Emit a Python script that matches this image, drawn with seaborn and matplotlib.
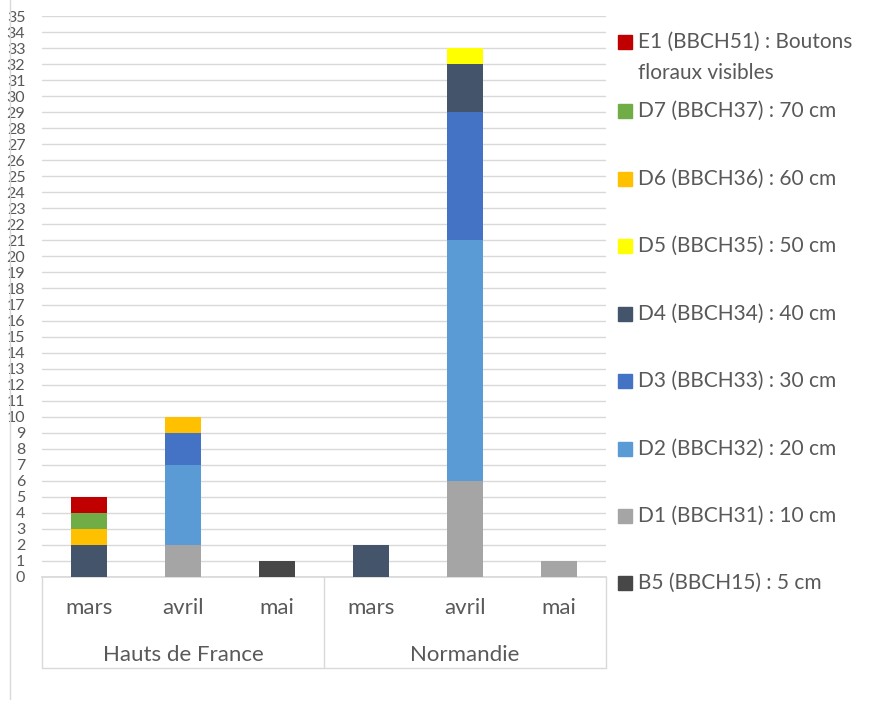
import pandas as pd
import matplotlib.pyplot as plt
import seaborn as sns
from matplotlib.lines import Line2D
from matplotlib.patches import Rectangle

# Données
regions = ['Hauts de France', 'Normandie']
mois = ['mars', 'avril', 'mai']
stades = ['B5 (BBCH15) : 5 cm', 'D1 (BBCH31) : 10 cm', 'D2 (BBCH32) : 20 cm',
          'D3 (BBCH33) : 30 cm', 'D4 (BBCH34) : 40 cm', 'D5 (BBCH35) : 50 cm',
          'D6 (BBCH36) : 60 cm', 'D7 (BBCH37) : 70 cm',
          'E1 (BBCH51) : Boutons\nfloraux visibles']
couleurs = ['#474747', '#A5A5A5', '#5B9BD5', '#4472C4', '#44546A',
            '#FFFF00', '#FFC000', '#70AD47', '#C00000']

# effectifs par stade, dans l'ordre HdF mars/avril/mai puis Normandie mars/avril/mai
b5 = [0, 0, 1, 0, 0, 0]
d1 = [0, 2, 0, 0, 6, 1]
d2 = [0, 5, 0, 0, 15, 0]
d3 = [0, 2, 0, 0, 8, 0]
d4 = [2, 0, 0, 2, 3, 0]
d5 = [0, 0, 0, 0, 1, 0]
d6 = [1, 1, 0, 0, 0, 0]
d7 = [1, 0, 0, 0, 0, 0]
e1 = [1, 0, 0, 0, 0, 0]
valeurs = [b5, d1, d2, d3, d4, d5, d6, d7, e1]

cles = [f'{r}|{m}' for r in regions for m in mois]
df = pd.DataFrame({s: v for s, v in zip(stades, valeurs)})
cumul = df[stades].cumsum(axis=1)
cumul['cle'] = cles

gris = '#595959'
sns.set_theme(style='white')
plt.rcParams['font.family'] = ['Lato', 'DejaVu Sans']

fig = plt.figure(figsize=(8.94, 7.06), dpi=100)
ax = fig.add_axes([42 / 894, 1 - 577 / 706, (606 - 42) / 894, (577 - 16) / 706])

# empilement : on trace les cumuls du haut vers le bas
for s, c in zip(reversed(stades), reversed(couleurs)):
    sns.barplot(data=cumul, x='cle', y=s, order=cles, color=c, saturation=1,
                width=0.39, linewidth=0, ax=ax, zorder=3)

ax.set_ylim(0, 35)
ax.set_xlim(-0.5, 5.5)
ax.set_yticks(range(0, 36))
ax.tick_params(axis='y', labelsize=11.5, labelcolor=gris, length=0, pad=12)
ax.yaxis.grid(True, color='#D9D9D9', linewidth=1, zorder=0)
ax.set_axisbelow(True)
ax.set_xlabel('')
ax.set_ylabel('')
ax.set_xticks(range(6))
ax.set_xticklabels(mois * 2, fontsize=16, color=gris)
ax.tick_params(axis='x', length=0, pad=15)
for sp in ['top', 'right', 'left']:
    ax.spines[sp].set_visible(False)
ax.spines['bottom'].set_color('#D9D9D9')

# niveau régions de l'axe des catégories
trans = ax.get_xaxis_transform()
for i, r in enumerate(regions):
    ax.text(i * 3 + 1, -78 / 561, r, transform=trans, ha='center', va='center',
            fontsize=16, color=gris)
for xv in [-0.5, 2.5, 5.5]:
    ax.add_line(Line2D([xv, xv], [0, -91 / 561], transform=trans, color='#D9D9D9',
                       lw=1, clip_on=False))
ax.add_line(Line2D([-0.5, 5.5], [-91 / 561, -91 / 561], transform=trans,
                   color='#D9D9D9', lw=1, clip_on=False))

# bord gauche du cadre
fig.add_artist(Line2D([10 / 894, 10 / 894], [0.01, 1], color='#D9D9D9', lw=1))

# légende
pos_y = [583, 516, 449, 381, 314, 246, 179, 111, 42]
for s, c, py in zip(stades, couleurs, pos_y):
    fig.add_artist(Rectangle((618 / 894, 1 - (py + 7) / 706), 14 / 894, 14 / 706,
                             color=c, transform=fig.transFigure))
    if '\n' in s:
        for k, ligne in enumerate(s.split('\n')):
            fig.text(638 / 894, 1 - (py + 31 * k) / 706, ligne, ha='left',
                     va='center', fontsize=15, color=gris)
    else:
        fig.text(638 / 894, 1 - py / 706, s, ha='left', va='center',
                 fontsize=15, color=gris)

fig.savefig('out.png', dpi=100, facecolor='white')
